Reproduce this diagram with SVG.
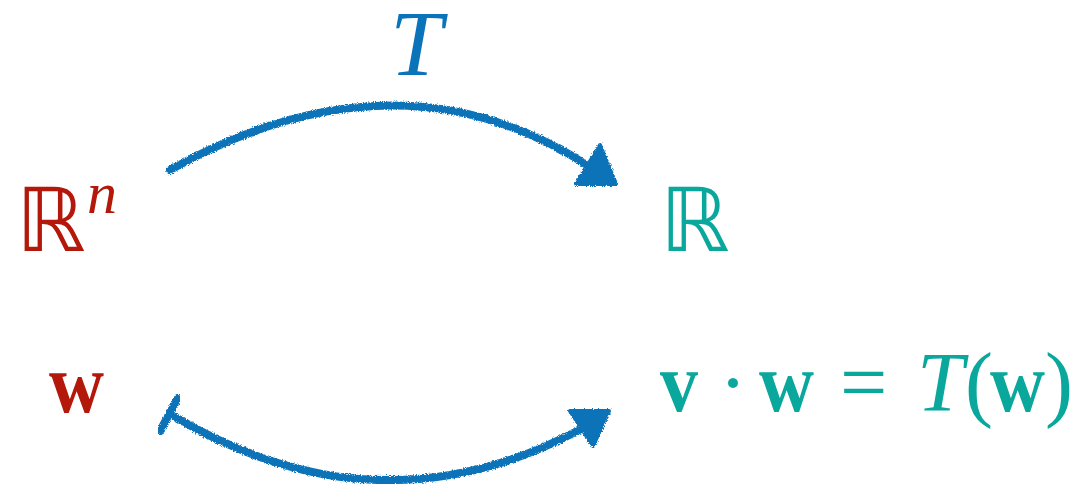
<svg xmlns="http://www.w3.org/2000/svg" width="1075" height="484" viewBox="0 0 1075 484">
<style>
.red{fill:#b3180a}
.teal{fill:#0aa89c}
.blue{fill:#0b73b9}
.ds{font-family:"DejaVu Sans",sans-serif;font-size:88px}
.it{font-family:"Liberation Serif",serif;font-style:italic}
.bf{font-family:"Liberation Serif",serif;font-weight:bold}
.rm{font-family:"Liberation Serif",serif}
.eq{font-size:84px}
.arc{fill:none;stroke:#0b73b9;stroke-width:8;stroke-linecap:round;filter:url(#rough)}
.head{fill:#0b73b9;stroke:#0b73b9;stroke-width:4;stroke-linejoin:round;filter:url(#rough)}
</style>
<defs>
<filter id="rough" x="-10%" y="-30%" width="120%" height="160%">
<feTurbulence type="fractalNoise" baseFrequency="0.9" numOctaves="2" seed="3" result="n"/>
<feDisplacementMap in="SourceGraphic" in2="n" scale="4" xChannelSelector="R" yChannelSelector="G"/>
</filter>
</defs>
<g id="Rn">
<text class="ds red" x="16" y="251">ℝ</text>
<text class="it red" x="87" y="213" font-size="60">n</text>
</g>
<g id="R">
<text class="ds teal" x="660" y="251">ℝ</text>
</g>
<g id="w">
<text class="bf red eq" x="49" y="412" textLength="55" lengthAdjust="spacingAndGlyphs">w</text>
</g>
<g id="vw">
<text class="bf teal eq" x="660" y="411" textLength="38" lengthAdjust="spacingAndGlyphs">v</text>
<text class="rm teal eq" x="719" y="411">·</text>
<text class="bf teal eq" x="759" y="411" textLength="55" lengthAdjust="spacingAndGlyphs">w</text>
<text class="rm teal eq" x="840" y="411">=</text>
<text class="it teal eq" x="917" y="411">T</text>
<text class="rm teal eq" x="965" y="411">(</text>
<text class="bf teal eq" x="990" y="411" textLength="55" lengthAdjust="spacingAndGlyphs">w</text>
<text class="rm teal eq" x="1045" y="411">)</text>
</g>
<g id="Tlabel">
<text class="it blue" x="390" y="75" font-size="94">T</text>
</g>
<g id="connectors">
<path class="arc" d="M170,170 Q399,42.5 590,167"/>
<polygon class="head" points="600,145 576,184 616,184"/>
<path class="arc" d="M175,417 Q380,537.5 583,428"/>
<line class="arc" x1="178" y1="398" x2="160" y2="431"/>
<polygon class="head" points="570,411 609,411 593,446"/>
</g>
</svg>
